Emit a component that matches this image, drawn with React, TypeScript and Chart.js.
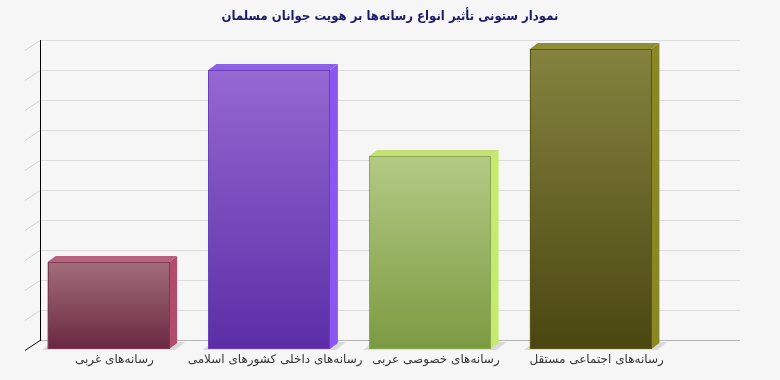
import React, { useEffect, useRef } from "react";
import { Chart, registerables } from "chart.js";

Chart.register(...registerables);

const titleText = "نمودار ستونی تأثیر انواع رسانه‌ها بر هویت جوانان مسلمان";
const categories = [
  "رسانه‌های غربی",
  "رسانه‌های داخلی کشورهای اسلامی",
  "رسانه‌های خصوصی عربی",
  "رسانه‌های اجتماعی مستقل",
];
const values = [29, 93, 64.3, 100];
const frontTop = ["#a36e7c", "#9568d2", "#b4ca84", "#85833f"];
const frontBottom = ["#6a2840", "#5a2da6", "#7c9a42", "#4a4610"];
const sideColors = ["#b04c6c", "#8b55f2", "#c6ea70", "#8a8822"];
const topColors = ["#b8627e", "#8f5fe6", "#c4e276", "#908e34"];
const edgeColors = ["#7a3a50", "#6a40b8", "#8aa850", "#5a5618"];

const DX = 8;
const DY = 6;

const threeD = {
  id: "threeD",
  beforeDatasetsDraw(chart: any) {
    const { ctx, chartArea } = chart;
    const yScale = chart.scales.y;
    const backLeft = chartArea.left + 12;
    const backRight = chart.width - 40;
    const ticks = yScale.ticks.map((t: any) => t.value);
    ctx.save();
    ticks.forEach((v: number) => {
      const gy = Math.round(yScale.getPixelForValue(v) - 9) + 0.5;
      const isBase = v === ticks[0];
      ctx.strokeStyle = isBase ? "#b4b4b4" : "#dcdcdc";
      ctx.lineWidth = 1;
      ctx.beginPath();
      ctx.moveTo(backLeft, gy);
      ctx.lineTo(backRight, gy);
      ctx.stroke();
      ctx.strokeStyle = isBase ? "#000" : "#d4d4d4";
      ctx.beginPath();
      ctx.moveTo(backLeft - 15, gy + 10);
      ctx.lineTo(backLeft, gy);
      ctx.stroke();
    });
    const topY = Math.round(yScale.getPixelForValue(ticks[ticks.length - 1]) - 9);
    const botY = Math.round(yScale.getPixelForValue(ticks[0]) - 9);
    ctx.strokeStyle = "#000";
    ctx.beginPath();
    ctx.moveTo(backLeft + 0.5, topY);
    ctx.lineTo(backLeft + 0.5, botY + 1);
    ctx.stroke();
    const meta = chart.getDatasetMeta(0);
    meta.data.forEach((bar: any) => {
      const left = bar.x - bar.width / 2;
      const right = bar.x + bar.width / 2;
      const base = bar.base;
      ctx.fillStyle = "#dadada";
      ctx.beginPath();
      ctx.moveTo(left - 6, base + 1);
      ctx.lineTo(right + 6, base + 1);
      ctx.lineTo(right + 16, base - 7);
      ctx.lineTo(left + 4, base - 7);
      ctx.closePath();
      ctx.fill();
    });
    ctx.restore();
  },
  afterDatasetsDraw(chart: any) {
    const { ctx } = chart;
    const meta = chart.getDatasetMeta(0);
    ctx.save();
    meta.data.forEach((bar: any, i: number) => {
      const left = bar.x - bar.width / 2;
      const right = bar.x + bar.width / 2;
      const top = bar.y;
      const base = bar.base;
      ctx.fillStyle = sideColors[i];
      ctx.beginPath();
      ctx.moveTo(right, top);
      ctx.lineTo(right + DX, top - DY);
      ctx.lineTo(right + DX, base - DY);
      ctx.lineTo(right, base);
      ctx.closePath();
      ctx.fill();
      ctx.fillStyle = topColors[i];
      ctx.beginPath();
      ctx.moveTo(left, top);
      ctx.lineTo(left + DX, top - DY);
      ctx.lineTo(right + DX, top - DY);
      ctx.lineTo(right, top);
      ctx.closePath();
      ctx.fill();
      ctx.strokeStyle = edgeColors[i];
      ctx.lineWidth = 1;
      ctx.strokeRect(Math.round(left) + 0.5, Math.round(top) + 0.5, Math.round(right - left) - 1, Math.round(base - top) - 1);
    });
    ctx.restore();
  },
  afterDraw(chart: any) {
    const { ctx } = chart;
    ctx.save();
    ctx.font = "bold 13px 'DejaVu Sans Condensed', 'DejaVu Sans'";
    ctx.fillStyle = "#1c1c6a";
    ctx.textAlign = "center";
    ctx.textBaseline = "middle";
    (ctx as any).direction = "rtl";
    ctx.fillText(titleText, chart.width / 2, 17);
    ctx.restore();
  },
};

export default function App() {
  const ref = useRef<HTMLCanvasElement>(null);
  useEffect(() => {
    document.body.style.margin = "0";
    document.body.style.background = "#f6f6f6";
    const chart = new Chart(ref.current!, {
      type: "bar",
      data: {
        labels: categories,
        datasets: [
          {
            data: values,
            backgroundColor: (c: any) => {
              const ch = c.chart;
              const i = c.dataIndex;
              if (!ch.chartArea || i === undefined) return frontTop[i ?? 0];
              const ys = ch.scales.y;
              const g = ch.ctx.createLinearGradient(0, ys.getPixelForValue(values[i]), 0, ys.getPixelForValue(0));
              g.addColorStop(0, frontTop[i]);
              g.addColorStop(1, frontBottom[i]);
              return g;
            },
            borderWidth: 0,
            categoryPercentage: 1,
            barPercentage: 0.756,
          },
        ],
      },
      options: {
        responsive: false,
        animation: false,
        layout: { padding: { left: 28, right: 109, top: 49, bottom: 0 } },
        plugins: { legend: { display: false }, tooltip: { enabled: false } },
        scales: {
          x: {
            grid: { display: false, drawTicks: false, tickLength: 0 },
            border: { display: false },
            ticks: {
              font: { family: "'DejaVu Sans'", size: 12 },
              color: "#333",
              padding: 4,
              labelOffset: 6,
              maxRotation: 0,
              autoSkip: false,
            },
            afterFit: (s: any) => {
              s.height = 31;
            },
          },
          y: {
            display: false,
            min: 0,
            max: 100,
            ticks: { stepSize: 10 },
          },
        },
      },
      plugins: [threeD],
    });
    return () => chart.destroy();
  }, []);
  return (
    <div style={{ width: 780, height: 380, background: "#f6f6f6" }}>
      <canvas ref={ref} width={780} height={380} />
    </div>
  );
}
